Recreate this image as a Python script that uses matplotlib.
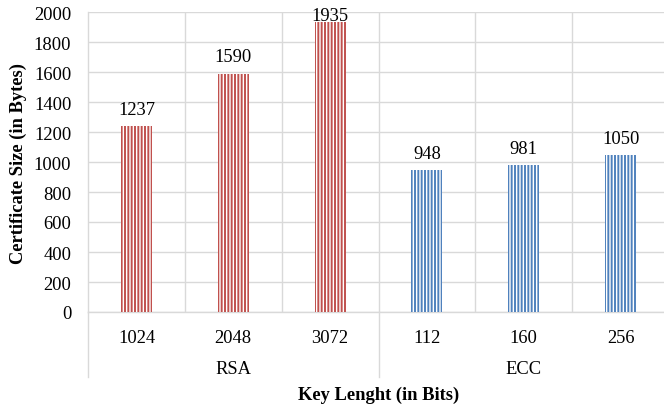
import matplotlib.pyplot as plt
from matplotlib.transforms import blended_transform_factory

key_lengths = ['1024', '2048', '3072', '112', '160', '256']
cert_sizes = [1237, 1590, 1935, 948, 981, 1050]
algorithms = ['RSA', 'ECC']
algo_of_bar = ['RSA', 'RSA', 'RSA', 'ECC', 'ECC', 'ECC']
algo_colors = {'RSA': '#C0504D', 'ECC': '#4F81BD'}

plt.rcParams['font.family'] = ['Liberation Serif', 'DejaVu Serif']
plt.rcParams['font.size'] = 13.3
plt.rcParams['hatch.linewidth'] = 1.4

grid_c = '#d9d9d9'
fs = 13.3

fig = plt.figure(figsize=(6.64, 4.06), dpi=100)
ax = fig.add_axes([88 / 664, 93 / 406, 581 / 664, 300 / 406])

x = list(range(len(key_lengths)))
for xi, v, a in zip(x, cert_sizes, algo_of_bar):
    ax.bar(xi, v, width=0.32, facecolor='white', edgecolor=algo_colors[a],
           linewidth=0, hatch='|||||', zorder=3)

ymax = 2000
for xi, v in zip(x, cert_sizes):
    ax.text(xi, min(v + 80, ymax - 53), str(v), ha='center', va='baseline',
            fontsize=fs, zorder=4)

ax.set_xlim(-0.5, len(x) - 0.5)
ax.set_ylim(0, ymax)
ax.set_yticks(range(0, ymax + 1, 200))
ax.set_xticks(x)
ax.set_xticklabels(key_lengths)
ax.set_xticks([i + 0.5 for i in x[:-1]], minor=True)
ax.tick_params(axis='both', which='both', length=0, labelsize=fs)
ax.tick_params(axis='x', pad=12)
ax.tick_params(axis='y', pad=12)

ax.grid(axis='y', color=grid_c, linewidth=1.0, zorder=0)
ax.grid(axis='x', which='minor', color=grid_c, linewidth=1.0, zorder=0)
ax.set_axisbelow(True)

for s in ['top', 'right']:
    ax.spines[s].set_visible(False)
for s in ['left', 'bottom']:
    ax.spines[s].set_color(grid_c)
    ax.spines[s].set_linewidth(1.0)

# group separators running down through the category label rows
depth = -65 / 300
trans = blended_transform_factory(ax.transData, ax.transAxes)
for xs in [-0.5, 2.5]:
    ax.plot([xs, xs], [0, depth], transform=trans, color=grid_c,
            linewidth=1.0, clip_on=False)

for k, name in enumerate(algorithms):
    ax.text(3 * k + 1, -57 / 300, name, transform=trans, ha='center',
            va='center', fontsize=fs)

ax.set_xlabel('Key Lenght (in Bits)', fontweight='bold', fontsize=fs)
ax.set_ylabel('Certificate Size (in Bytes)', fontweight='bold', fontsize=fs)
ax.xaxis.label.set_va('center')
ax.yaxis.label.set_va('center')
ax.xaxis.set_label_coords(0.5, -82 / 300)
ax.yaxis.set_label_coords(-70 / 581, 0.5)

fig.savefig('out.png', dpi=100)
